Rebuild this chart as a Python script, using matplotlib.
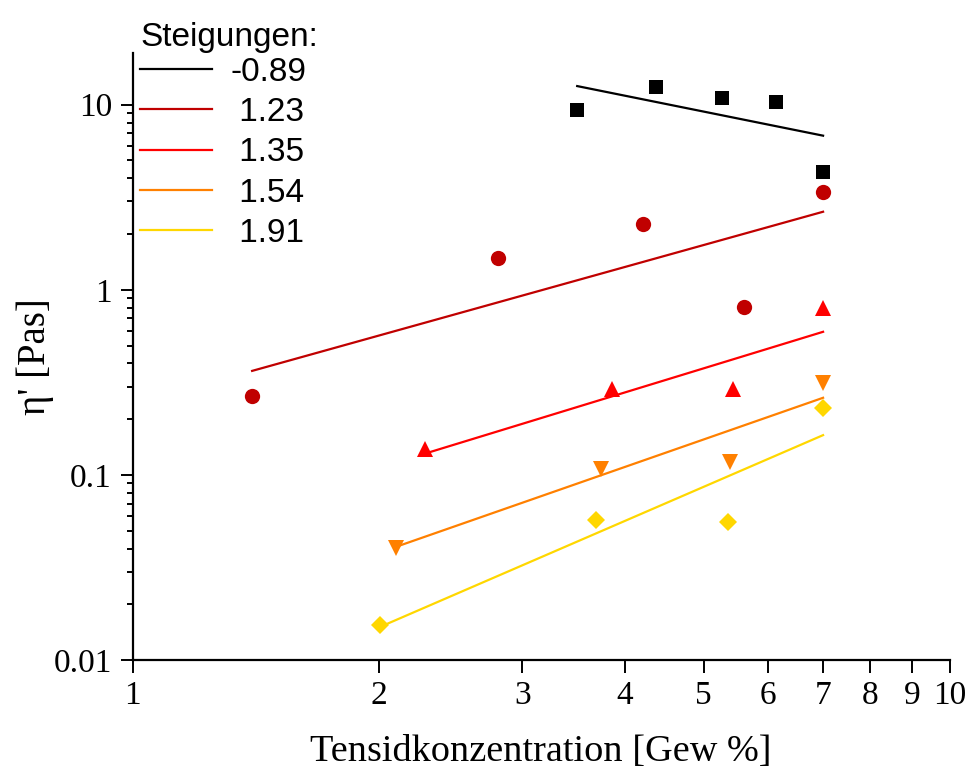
import matplotlib
matplotlib.use("Agg")
import matplotlib.pyplot as plt
import numpy as np
from matplotlib.ticker import FixedLocator, NullFormatter, LogLocator, FixedFormatter

# Measured data: surfactant concentration [wt %] vs. eta' [Pa s]
conc_sq = [3.5, 4.37, 5.26, 6.13, 7.0]
eta_sq = [9.4, 12.5, 10.8, 10.3, 4.35]

conc_ci = [1.40, 2.80, 4.21, 5.60, 7.0]
eta_ci = [0.267, 1.49, 2.27, 0.81, 3.39]

conc_up = [2.28, 3.86, 5.43, 7.0]
eta_up = [0.138, 0.292, 0.292, 0.80]

conc_dn = [2.10, 3.74, 5.38, 7.0]
eta_dn = [0.0403, 0.108, 0.1175, 0.314]

conc_di = [2.01, 3.69, 5.36, 7.0]
eta_di = [0.0155, 0.0571, 0.0557, 0.230]

# Power-law fits: slope, value at the upper end, and fitted range
slopes = [-0.89, 1.23, 1.35, 1.54, 1.91]
fit_end_vals = [6.8, 2.64, 0.593, 0.261, 0.164]
fit_x0 = [3.5, 1.40, 2.28, 2.10, 2.01]
fit_x1 = [7.0, 7.0, 7.0, 7.0, 7.0]

colors = ["#000000", "#C00000", "#FF0000", "#FF8000", "#FFD700"]
markers = ["s", "o", "^", "v", "D"]
marker_sizes = [10.5, 11, 11.5, 11.5, 9.5]
series = [(conc_sq, eta_sq), (conc_ci, eta_ci), (conc_up, eta_up),
          (conc_dn, eta_dn), (conc_di, eta_di)]

x_ticks = [1, 2, 3, 4, 5, 6, 7, 8, 9, 10]
x_ticklabels = ["1", "2", "3", "4", "5", "6", "7", "8", "9", "10"]
y_ticks = [0.01, 0.1, 1, 10]
y_ticklabels = ["0.01", "0.1", "1", "10"]

fig = plt.figure(figsize=(9.69, 7.69), dpi=100)
ax = fig.add_axes([0.137, 0.1417, 0.843, 0.7893])

serif = ["Liberation Serif", "DejaVu Serif"]
sans = ["Liberation Sans", "DejaVu Sans"]

line_handles = []
for (xs, ys), s, yend, x0, x1, c, m, ms in zip(series, slopes, fit_end_vals,
                                               fit_x0, fit_x1, colors, markers,
                                               marker_sizes):
    ax.plot(xs, ys, linestyle="none", marker=m, color=c, markersize=ms,
            markeredgewidth=0, zorder=3)
    xf = np.array([x0, x1])
    yf = yend * (xf / x1) ** s
    h, = ax.plot(xf, yf, color=c, linewidth=1.6, zorder=2)
    line_handles.append(h)

ax.set_xscale("log")
ax.set_yscale("log")
ax.set_xlim(1, 10)
ax.set_ylim(0.01, 19)

ax.xaxis.set_major_locator(FixedLocator(x_ticks))
ax.xaxis.set_major_formatter(FixedFormatter(x_ticklabels))
ax.xaxis.set_minor_locator(FixedLocator([]))
ax.yaxis.set_major_locator(FixedLocator(y_ticks))
ax.yaxis.set_major_formatter(FixedFormatter(y_ticklabels))
ax.yaxis.set_minor_locator(LogLocator(base=10, subs=np.arange(2, 10)))
ax.yaxis.set_minor_formatter(NullFormatter())

for sp in ["top", "right"]:
    ax.spines[sp].set_visible(False)
for sp in ["left", "bottom"]:
    ax.spines[sp].set_linewidth(1.6)

ax.tick_params(axis="both", which="major", direction="out", length=9,
               width=1.4, labelsize=24, pad=6)
ax.tick_params(axis="y", which="minor", direction="out", length=4.5,
               width=1.4)
for lab in ax.get_xticklabels() + ax.get_yticklabels():
    lab.set_family(serif)

ax.set_xlabel("Tensidkonzentration [Gew %]", family=serif, fontsize=27.5,
              labelpad=17)
ax.set_ylabel("η' [Pas]", family=serif, fontsize=28, labelpad=0)

labels = [f"{s:5.2f}" for s in slopes]
leg = fig.legend(line_handles, labels, title="Steigungen:",
                 loc="upper left", bbox_to_anchor=(0.1226, 1.0),
                 frameon=False, prop={"family": sans, "size": 24},
                 title_fontproperties={"family": sans, "size": 24},
                 alignment="left", handlelength=2.15, handletextpad=0.55,
                 labelspacing=0.28, borderaxespad=0.3, borderpad=0.35)
leg._legend_box.sep = 3

fig.savefig("out.png", dpi=100)
